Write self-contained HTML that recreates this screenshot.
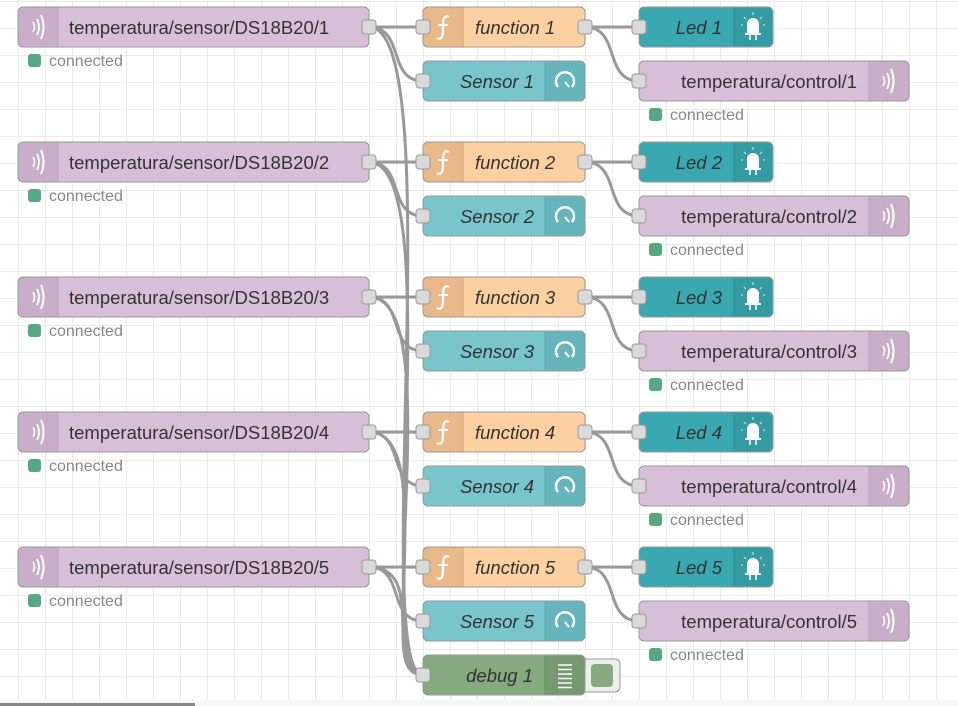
<!DOCTYPE html>
<html><head><meta charset="utf-8"><style>
html,body{margin:0;padding:0;background:#fff;}
svg{display:block;}
text{font-family:"Liberation Sans",Arial,sans-serif;font-size:18.5px;fill:#333;}
.i{font-style:italic;}
.st{font-size:16px;fill:#888;}
.w{fill:none;stroke:#999;stroke-width:3;}
.n{stroke:#999;stroke-width:1;}
.p{fill:#d9d9d9;stroke:#999;stroke-width:1;}
</style></head><body>
<svg width="958" height="706" viewBox="0 0 958 706" xmlns="http://www.w3.org/2000/svg">
<defs>
<pattern id="g" x="18" y="1" width="27" height="27" patternUnits="userSpaceOnUse">
<path d="M0 0V27M0 0H27" stroke="#eaeaea" stroke-width="2" fill="none"/>
</pattern>
<g id="wave"><path d="M-3 -5 Q0 0 -3 5" stroke="#fff" stroke-width="1.6" fill="none"/><path d="M1 -8 Q5 0 1 8" stroke="#fff" stroke-width="1.8" fill="none"/><path d="M5 -12 Q10 0 5 12" stroke="#fff" stroke-width="2" fill="none"/></g>
<g id="fn"><path d="M6 -10 Q3 -12 1 -9 Q0 -6 0 0 Q0 8 -1 10 Q-3 13 -6 11" stroke="#fff" stroke-width="2.2" fill="none"/><path d="M-5 -2H5" stroke="#fff" stroke-width="2"/></g>
<g id="gauge"><path d="M-7 6 A9 9 0 1 1 7 6" stroke="#fff" stroke-width="2.4" fill="none"/><path d="M0 1 L4 6" stroke="#fff" stroke-width="2"/></g>
<g id="led"><path d="M-6 6 V-3 A6 6 0 0 1 6 -3 V6Z" fill="#fff"/><rect x="-8" y="6" width="16" height="2" fill="#fff"/><path d="M-3 8V13M3 8V13" stroke="#fff" stroke-width="1.5"/><path d="M0 -15V-12M-9 -10L-7 -8M9 -10L7 -8M-12 -2H-10M12 -2H10" stroke="#fff" stroke-width="1.2" opacity=".7"/></g>
<g id="row">
<path class="w" d="M369 27 H423"/>
<path class="w" d="M369 27 C405 27 387 81 423 81"/>
<path class="w" d="M585 27 H639"/>
<path class="w" d="M585 27 C621 27 603 81 639 81"/>
<rect x="18" y="7" width="351" height="40" rx="5" fill="#d8bfd8"/>
<path d="M23 7H58V47H23A5 5 0 0 1 18 42V12A5 5 0 0 1 23 7Z" fill="#c9aec9"/>
<path d="M58 7V47" stroke="#b9a0b9"/>
<rect class="n" x="18" y="7" width="351" height="40" rx="5" fill="none"/>
<use href="#wave" x="36" y="27"/>
<rect class="p" x="362" y="20" width="14" height="14" rx="3"/>
<rect x="28" y="54" width="13" height="13" rx="3" fill="#55a883"/>
<rect x="423" y="7" width="162" height="40" rx="5" fill="#fdd0a2"/>
<path d="M428 7H463V47H428A5 5 0 0 1 423 42V12A5 5 0 0 1 428 7Z" fill="#eab98a"/>
<path d="M463 7V47" stroke="#d8a676"/>
<rect class="n" x="423" y="7" width="162" height="40" rx="5" fill="none"/>
<use href="#fn" x="443" y="27"/>
<rect class="p" x="416" y="20" width="14" height="14" rx="3"/>
<rect class="p" x="578" y="20" width="14" height="14" rx="3"/>
<rect x="423" y="61" width="162" height="40" rx="5" fill="#78c5cb"/>
<path d="M545 61H580A5 5 0 0 1 585 66V96A5 5 0 0 1 580 101H545Z" fill="#66b4bc"/>
<path d="M545 61V101" stroke="#5aa6ad"/>
<rect class="n" x="423" y="61" width="162" height="40" rx="5" fill="none"/>
<use href="#gauge" x="565" y="81"/>
<rect class="p" x="416" y="74" width="14" height="14" rx="3"/>
<rect x="639" y="7" width="134" height="40" rx="5" fill="#3aa8b1"/>
<path d="M734 7H768A5 5 0 0 1 773 12V42A5 5 0 0 1 768 47H734Z" fill="#359ba3"/>
<path d="M734 7V47" stroke="#2d8c93"/>
<rect class="n" x="639" y="7" width="134" height="40" rx="5" fill="none"/>
<use href="#led" x="753" y="27"/>
<rect class="p" x="632" y="20" width="14" height="14" rx="3"/>
<rect x="639" y="61" width="270" height="40" rx="5" fill="#d8bfd8"/>
<path d="M869 61H904A5 5 0 0 1 909 66V96A5 5 0 0 1 904 101H869Z" fill="#c9aec9"/>
<path d="M869 61V101" stroke="#b9a0b9"/>
<rect class="n" x="639" y="61" width="270" height="40" rx="5" fill="none"/>
<use href="#wave" x="886" y="81"/>
<rect class="p" x="632" y="74" width="14" height="14" rx="3"/>
<rect x="649" y="108" width="13" height="13" rx="3" fill="#55a883"/>
</g>
</defs>
<rect width="958" height="706" fill="#fff"/>
<rect width="958" height="700" fill="url(#g)"/>
<path class="w" d="M369 27 C450 27 370 675 423 675"/>
<path class="w" d="M369 162 C450 162 370 675 423 675"/>
<path class="w" d="M369 297 C450 297 370 675 423 675"/>
<path class="w" d="M369 432 C440 432 375 675 423 675"/>
<path class="w" d="M369 567 C430 567 380 675 423 675"/>

<g><use href="#row"/>
<text x="69" y="34">temperatura/sensor/DS18B20/1</text><text class="st" x="49" y="66">connected</text>
<text class="i" x="475" y="34">function 1</text><text class="i" x="534" y="88" text-anchor="end">Sensor 1</text>
<text class="i" x="722" y="34" text-anchor="end">Led 1</text><text x="857" y="88" text-anchor="end">temperatura/control/1</text><text class="st" x="670" y="120">connected</text></g>

<g transform="translate(0,135)"><use href="#row"/>
<text x="69" y="34">temperatura/sensor/DS18B20/2</text><text class="st" x="49" y="66">connected</text>
<text class="i" x="475" y="34">function 2</text><text class="i" x="534" y="88" text-anchor="end">Sensor 2</text>
<text class="i" x="722" y="34" text-anchor="end">Led 2</text><text x="857" y="88" text-anchor="end">temperatura/control/2</text><text class="st" x="670" y="120">connected</text></g>

<g transform="translate(0,270)"><use href="#row"/>
<text x="69" y="34">temperatura/sensor/DS18B20/3</text><text class="st" x="49" y="66">connected</text>
<text class="i" x="475" y="34">function 3</text><text class="i" x="534" y="88" text-anchor="end">Sensor 3</text>
<text class="i" x="722" y="34" text-anchor="end">Led 3</text><text x="857" y="88" text-anchor="end">temperatura/control/3</text><text class="st" x="670" y="120">connected</text></g>

<g transform="translate(0,405)"><use href="#row"/>
<text x="69" y="34">temperatura/sensor/DS18B20/4</text><text class="st" x="49" y="66">connected</text>
<text class="i" x="475" y="34">function 4</text><text class="i" x="534" y="88" text-anchor="end">Sensor 4</text>
<text class="i" x="722" y="34" text-anchor="end">Led 4</text><text x="857" y="88" text-anchor="end">temperatura/control/4</text><text class="st" x="670" y="120">connected</text></g>

<g transform="translate(0,540)"><use href="#row"/>
<text x="69" y="34">temperatura/sensor/DS18B20/5</text><text class="st" x="49" y="66">connected</text>
<text class="i" x="475" y="34">function 5</text><text class="i" x="534" y="88" text-anchor="end">Sensor 5</text>
<text class="i" x="722" y="34" text-anchor="end">Led 5</text><text x="857" y="88" text-anchor="end">temperatura/control/5</text><text class="st" x="670" y="120">connected</text></g>

<rect x="580" y="659" width="40" height="33" rx="5" fill="#eee" stroke="#999"/>
<rect x="591" y="664" width="22" height="23" rx="4" fill="#87a980"/>
<rect x="423" y="655" width="162" height="40" rx="5" fill="#87a980"/>
<path d="M545 655H580A5 5 0 0 1 585 660V690A5 5 0 0 1 580 695H545Z" fill="#779970"/>
<path d="M545 655V695" stroke="#6a8a63"/>
<rect class="n" x="423" y="655" width="162" height="40" rx="5" fill="none"/>
<path d="M558 665H572M558 669.5H572M558 674H572M558 678.5H572M558 683H572M558 687.5H572" stroke="#fff" stroke-width="1.6"/>
<rect class="p" x="416" y="668" width="14" height="14" rx="3"/>
<text class="i" x="533" y="682" text-anchor="end">debug 1</text>

<rect x="0" y="700" width="958" height="6" fill="#f7f7f7"/>
<rect x="0" y="703" width="195" height="3" fill="#888"/>
</svg>
</body></html>
